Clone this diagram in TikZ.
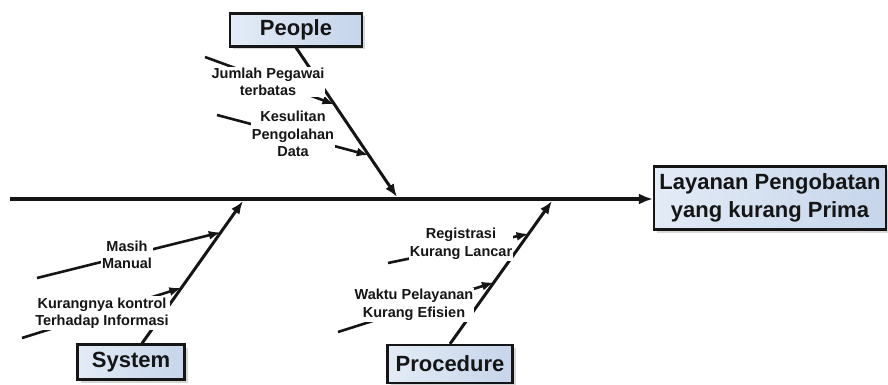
\documentclass[tikz,border=0pt]{standalone}
\usepackage{fontspec}
\setmainfont{Liberation Sans}
\usetikzlibrary{arrows.meta,positioning,calc,shadows}
\definecolor{boxfill}{HTML}{C6D5EB}
\definecolor{boxlight}{HTML}{E3EBF6}
\definecolor{ink}{HTML}{151515}

\begin{document}
\begin{tikzpicture}[x=1pt,y=-1pt,
  cause/.style={draw=ink,line width=2.2pt,left color=boxlight,right color=boxfill,text=ink,
    drop shadow={shadow xshift=3pt,shadow yshift=-3pt,fill=black!35,opacity=0.45},
    font=\bfseries\fontsize{22}{26}\selectfont,inner sep=0pt},
  lbl/.style={fill=white,inner sep=1pt,align=center,text=ink,
    font=\bfseries\fontsize{14.5}{17.5}\selectfont},
  bone/.style={draw=ink,line width=3pt,-{Latex[length=13pt,width=10pt]}},
  twig/.style={draw=ink,line width=2.6pt,-{Latex[length=12pt,width=9pt]}}]
\useasboundingbox (0,0) rectangle (888,385);
% head and causes
\node[cause,minimum width=232pt,minimum height=63pt,align=center,
  font=\bfseries\fontsize{22}{28}\selectfont] (effect) at (770,198) {Layanan Pengobatan\\yang kurang Prima};
\node[cause,minimum width=132pt,minimum height=33pt] (people) at (296,30) {People};
\node[cause,minimum width=107pt,minimum height=35pt] (system) at (131,362) {System};
\node[cause,minimum width=125pt,minimum height=38pt] (procedure) at (450,364) {Procedure};
% spine and bones
\coordinate (spL) at (10,199);
\coordinate (pT) at (397,197);
\coordinate (sT) at (243,201);
\coordinate (rT) at (552,201);
\coordinate (sB) at ([xshift=11pt]system.north);
\draw[ink,line width=3.4pt,-{Latex[length=14pt,width=11pt]}] (spL) -- (spL -| effect.west);
\draw[bone] (people.south) -- (pT);
\draw[bone] (sB) -- (sT);
\draw[bone] (procedure.north) -- (rT);
% twigs
\coordinate (j0) at (205,57);  \coordinate (j1) at ($(people.south)!0.38!(pT)$);
\coordinate (k0) at (217,115); \coordinate (k1) at ($(people.south)!0.72!(pT)$);
\coordinate (m0) at (37,278);  \coordinate (m1) at ($(sB)!0.78!(sT)$);
\coordinate (n0) at (22,338);  \coordinate (n1) at ($(sB)!0.39!(sT)$);
\coordinate (r0) at (388,263); \coordinate (r1) at ($(procedure.north)!0.77!(rT)$);
\coordinate (w0) at (338,332); \coordinate (w1) at ($(procedure.north)!0.43!(rT)$);
\foreach \s/\t in {j0/j1,k0/k1,m0/m1,n0/n1,r0/r1,w0/w1} {\draw[twig] (\s) -- (\t);}
% labels
\node[lbl] (jumlah) at (268,82) {Jumlah Pegawai\\terbatas};
\node[lbl] (kesulitan) at (293,134) {Kesulitan\\Pengolahan\\Data};
\node[lbl] (manual) at (127,255) {Masih\\Manual};
\node[lbl] (kontrol) at (102,313) {Kurangnya kontrol\\Terhadap Informasi};
\node[lbl] (registrasi) at (461,244) {Registrasi\\Kurang Lancar};
\node[lbl] (waktu) at (414,305) {Waktu Pelayanan\\Kurang Efisien};
\end{tikzpicture}
\end{document}
